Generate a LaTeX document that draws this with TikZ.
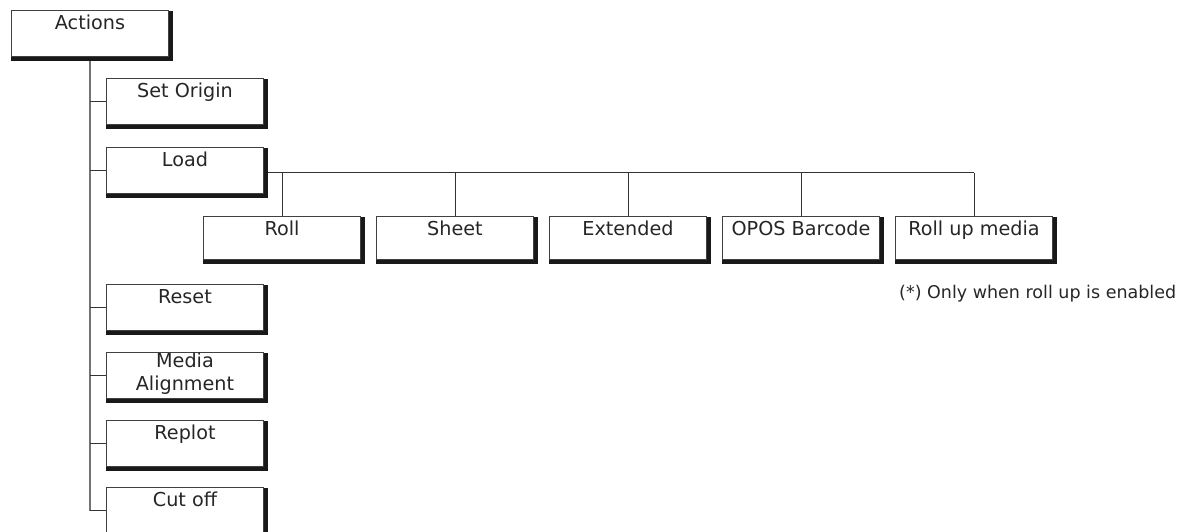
\documentclass[tikz,border=0pt]{standalone}
\usepackage{fontspec}
\setmainfont{DejaVu Sans}
\usetikzlibrary{positioning}
\begin{document}
\begin{tikzpicture}[x=1pt, y=-1pt,
  font=\fontsize{19.2}{23}\selectfont,
  menubox/.style={draw=black!75, line width=1pt, fill=white, anchor=north west,
    minimum width=157pt, minimum height=46pt, inner sep=0pt},
  rowbox/.style={menubox, minimum height=43pt},
  boxtext/.style={anchor=north, inner sep=0pt, align=center, text=black!85},
  trunk/.style={black!55, line width=1.3pt},
  link/.style={black!80, line width=1pt}]
  \useasboundingbox (0,0) rectangle (1187,531);
  % menu boxes
  \node[menubox] (actions) at (11,10) {};
  \foreach \n/\y in {setorigin/78, load/147, reset/284, mediaalign/352, replot/420, cutoff/487} {
    \node[menubox] (\n) at (106,\y) {};
  }
  % load sub-menu row
  \foreach \n [count=\i from 0] in {roll, sheet, extended, opos, rollup} {
    \node[rowbox] (\n) at ({203+173*\i},216) {};
  }
  % tree lines
  \draw[trunk] (actions.south) -- (actions.south |- cutoff.west);
  \foreach \n in {setorigin, load, reset, mediaalign, replot, cutoff} {
    \draw[link] (actions.south |- \n.west) -- (\n.west);
  }
  \coordinate (bus) at ([yshift=-2pt]load.east);
  \draw[link] (bus) -- (bus -| rollup.north);
  \foreach \n in {roll, sheet, extended, opos, rollup} {
    \draw[link] (bus -| \n.north) -- (\n.north);
  }
  % shadows
  \foreach \n in {actions, setorigin, load, reset, mediaalign, replot, cutoff, roll, sheet, extended, opos, rollup} {
    \fill[black!90] ([yshift=-1pt]\n.north east) rectangle ([shift={(4pt,-4pt)}]\n.south east);
    \fill[black!90] (\n.south west) rectangle ([shift={(4pt,-4pt)}]\n.south east);
  }
  % labels
  \foreach \n/\lab in {actions/Actions, setorigin/Set Origin, load/Load, reset/Reset,
      replot/Replot, cutoff/Cut off, roll/Roll, sheet/Sheet, extended/Extended,
      opos/OPOS Barcode, rollup/Roll up media} {
    \node[boxtext] (\n-t) at ([yshift=-5pt]\n.north) {\lab};
  }
  \node[boxtext] (mediaalign-t) at ([yshift=-0.5pt]mediaalign.north) {Media\\Alignment};
  \node[anchor=base west, inner sep=0pt, text=black!85, font=\fontsize{17.5}{21}\selectfont]
    (note) at (899,298) {(*) Only when roll up is enabled};
\end{tikzpicture}
\end{document}
